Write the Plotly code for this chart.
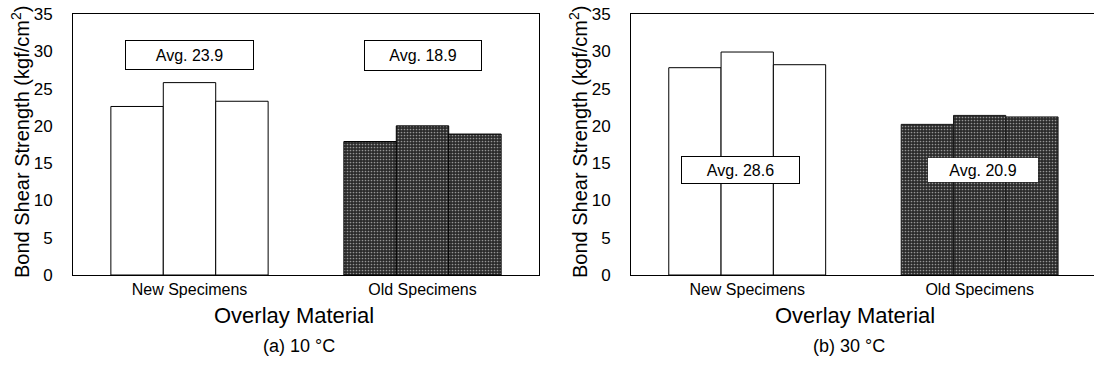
import plotly.graph_objects as go

# Overlay material groups
categories = ["New Specimens", "Old Specimens"]

# Bond shear strength (kgf/cm^2) of three specimens per group
strength_10c_new = [22.6, 25.8, 23.3]
strength_10c_old = [17.9, 20.0, 18.9]
strength_30c_new = [27.8, 29.9, 28.2]
strength_30c_old = [20.2, 21.4, 21.2]

# Averages written in the boxes
avg_10c = [23.9, 18.9]
avg_30c = [28.6, 20.9]

panel_captions = ["(a) 10 °C", "(b) 30 °C"]
x_title = "Overlay Material"
y_title = "Bond Shear Strength (kgf/cm<sup>2</sup>)"
y_ticks = [0, 5, 10, 15, 20, 25, 30, 35]

FONT = "Liberation Sans, Arial, Helvetica, sans-serif"
DARK_BG = "#2a2a2a"
DARK_FG = "#8c8c8c"

W, H = 1094, 367
M_TOP, M_BOT = 14, 92
plot_h = H - M_TOP - M_BOT

fig = go.Figure()


def add_panel(new_vals, old_vals, xa, ya, old_line):
    for i in range(3):
        fig.add_trace(go.Bar(
            x=categories,
            y=[new_vals[i], old_vals[i]],
            xaxis=xa, yaxis=ya,
            marker=dict(
                color=["white", DARK_BG],
                line=dict(color=["black", old_line], width=1),
                pattern=dict(shape=["", "."], fgcolor=["white", DARK_FG],
                             bgcolor=["white", DARK_BG], size=3, solidity=0.25),
            ),
            showlegend=False,
            hoverinfo="skip",
        ))


add_panel(strength_10c_new, strength_10c_old, "x", "y", "black")
add_panel(strength_30c_new, strength_30c_old, "x2", "y2", "#1a1a1a")

axis_common = dict(
    type="category",
    showgrid=False,
    zeroline=False,
    showline=True,
    linecolor="black",
    linewidth=1,
    ticks="",
    tickfont=dict(family=FONT, size=16, color="black"),
)
yaxis_common = dict(
    range=[0, 35],
    tickvals=y_ticks,
    showgrid=False,
    zeroline=False,
    showline=True,
    linecolor="black",
    linewidth=1,
    ticks="",
    ticklabelstandoff=16,
    tickfont=dict(family=FONT, size=17, color="black"),
)

fig.update_layout(
    width=W, height=H,
    margin=dict(l=0, r=0, t=M_TOP, b=M_BOT),
    paper_bgcolor="white",
    plot_bgcolor="white",
    barmode="group",
    bargap=0.325,
    bargroupgap=0,
    xaxis=dict(domain=[73 / W, 539 / W], range=[-0.5, 1.5], mirror=True,
               anchor="y", **axis_common),
    yaxis=dict(domain=[0, 1], anchor="x", mirror=True, **yaxis_common),
    xaxis2=dict(domain=[631 / W, 1.0], range=[-0.5, 1.492], mirror=True,
                anchor="y2", **axis_common),
    yaxis2=dict(domain=[0, 1], anchor="x2", mirror=False, **yaxis_common),
    font=dict(family=FONT, color="black"),
)

# Average value boxes: (xref, yref, x position, y position, value, w, h, border)
boxes = [
    ("x", "y", 0.0, 29.45, avg_10c[0], 127, 28, "black"),
    ("x", "y", 1.0, 29.45, avg_10c[1], 116, 29, "black"),
    ("x2", "y2", -0.03, 14.05, avg_30c[0], 117, 26, "black"),
    ("x2", "y2", 1.015, 14.08, avg_30c[1], 108, 22, "white"),
]
for xr, yr, xv, yv, val, bw, bh, bc in boxes:
    fig.add_annotation(
        xref=xr, yref=yr, x=xv, y=yv,
        text=f"Avg. {val}", showarrow=False,
        font=dict(family=FONT, size=16, color="black"),
        bgcolor="white", bordercolor=bc, borderwidth=1, borderpad=0,
        width=bw, height=bh, xanchor="center", yanchor="middle",
    )


def py(pix):
    # convert a pixel row to paper coordinates of the plotting area
    return (H - M_BOT - pix) / plot_h


# Axis titles and panel captions
for cx_title, cx_cap, cx_y, cap in [(294, 299, 20, panel_captions[0]),
                                     (855, 849, 578, panel_captions[1])]:
    fig.add_annotation(xref="paper", yref="paper", x=cx_title / W, y=py(315),
                       text=x_title, showarrow=False, xanchor="center", yanchor="middle",
                       font=dict(family=FONT, size=22, color="black"))
    fig.add_annotation(xref="paper", yref="paper", x=cx_cap / W, y=py(346),
                       text=cap, showarrow=False, xanchor="center", yanchor="middle",
                       font=dict(family=FONT, size=18, color="black"))
    fig.add_annotation(xref="paper", yref="paper", x=cx_y / W, y=py(142),
                       text=y_title, showarrow=False, textangle=-90,
                       xanchor="center", yanchor="middle",
                       font=dict(family=FONT, size=20, color="black"))

fig.write_html("out.html")
